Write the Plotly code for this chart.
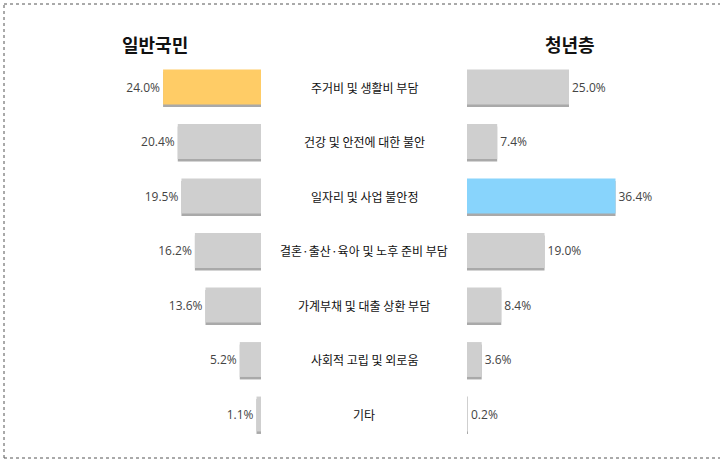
import plotly.graph_objects as go

categories = ["주거비 및 생활비 부담", "건강 및 안전에 대한 불안", "일자리 및 사업 불안정",
              "결혼·출산·육아 및 노후 준비 부담", "가계부채 및 대출 상환 부담",
              "사회적 고립 및 외로움", "기타"]
general = [24.0, 20.4, 19.5, 16.2, 13.6, 5.2, 1.1]
youth = [25.0, 7.4, 36.4, 19.0, 8.4, 3.6, 0.2]
group_titles = ["일반국민", "청년층"]

GRAY = "#CFCFCF"
YEL = "#FFCC66"
BLUE = "#88D4FC"
SHADOW = "#A9A9A9"

gen_colors = [YEL if v == max(general) else GRAY for v in general]
youth_colors = [BLUE if v == max(youth) else GRAY for v in youth]

W, H = 720, 462
PX = 4.08  # px per percent
left_zero, right_zero = 261, 467
left_start, right_end = 100, 700
row0, step = 87, 54.5
BW = 0.64
dy = 2.5 / step

fig = go.Figure()

for xs, xa in [(general, "x"), (youth, "x2")]:
    fig.add_trace(go.Bar(y=categories, x=xs, orientation="h", xaxis=xa, yaxis="y",
                         marker=dict(color=SHADOW, line_width=0), width=BW,
                         offset=-BW / 2 + dy, hoverinfo="skip", showlegend=False))

fig.add_trace(go.Bar(y=categories, x=general, orientation="h", xaxis="x", yaxis="y",
                     marker=dict(color=gen_colors, line_width=0), width=BW, offset=-BW / 2,
                     text=[f"{v:.1f}%" for v in general], textposition="outside",
                     textfont=dict(family="Open Sans, Noto Sans", size=12, color="#444"),
                     cliponaxis=False, showlegend=False))
fig.add_trace(go.Bar(y=categories, x=youth, orientation="h", xaxis="x2", yaxis="y",
                     marker=dict(color=youth_colors, line_width=0), width=BW, offset=-BW / 2,
                     text=[f"{v:.1f}%" for v in youth], textposition="outside",
                     textfont=dict(family="Open Sans, Noto Sans", size=12, color="#444"),
                     cliponaxis=False, showlegend=False))

yr = [(H - row0) / step, -row0 / step]
fig.update_layout(
    width=W, height=H, margin=dict(l=0, r=0, t=0, b=0),
    paper_bgcolor="white", plot_bgcolor="white", barmode="overlay",
    xaxis=dict(domain=[left_start / W, left_zero / W],
               range=[(left_zero - left_start) / PX, 0], visible=False, fixedrange=True),
    xaxis2=dict(domain=[right_zero / W, right_end / W],
                range=[0, (right_end - right_zero) / PX], visible=False, fixedrange=True),
    yaxis=dict(type="category", categoryorder="array", categoryarray=categories,
               range=yr, visible=False, domain=[0, 1]),
    font=dict(family="Noto Sans CJK KR"),
)

for c in categories:
    fig.add_annotation(x=364 / W, xref="paper", y=c, yref="y", text=c, showarrow=False,
                       xanchor="center", yanchor="middle",
                       font=dict(family="Noto Sans CJK KR", size=12, color="#111"))

for t, xc in zip(group_titles, [155, 570]):
    fig.add_annotation(x=xc / W, xref="paper", y=1 - 44 / H, yref="paper", text=f"<b>{t}</b>",
                       showarrow=False, xanchor="center", yanchor="middle",
                       font=dict(family="Noto Sans CJK KR", size=18, color="#111"))

border = dict(color="#555", width=1, dash="dot")
y_top, y_bot = 1 - 4 / H, 1 - 458 / H
fig.add_shape(type="line", xref="paper", yref="paper", x0=4 / W, x1=1.1, y0=y_top, y1=y_top, line=border)
fig.add_shape(type="line", xref="paper", yref="paper", x0=4 / W, x1=1.1, y0=y_bot, y1=y_bot, line=border)
fig.add_shape(type="line", xref="paper", yref="paper", x0=4 / W, x1=4 / W, y0=y_bot, y1=y_top, line=border)

fig.write_html("out.html")
